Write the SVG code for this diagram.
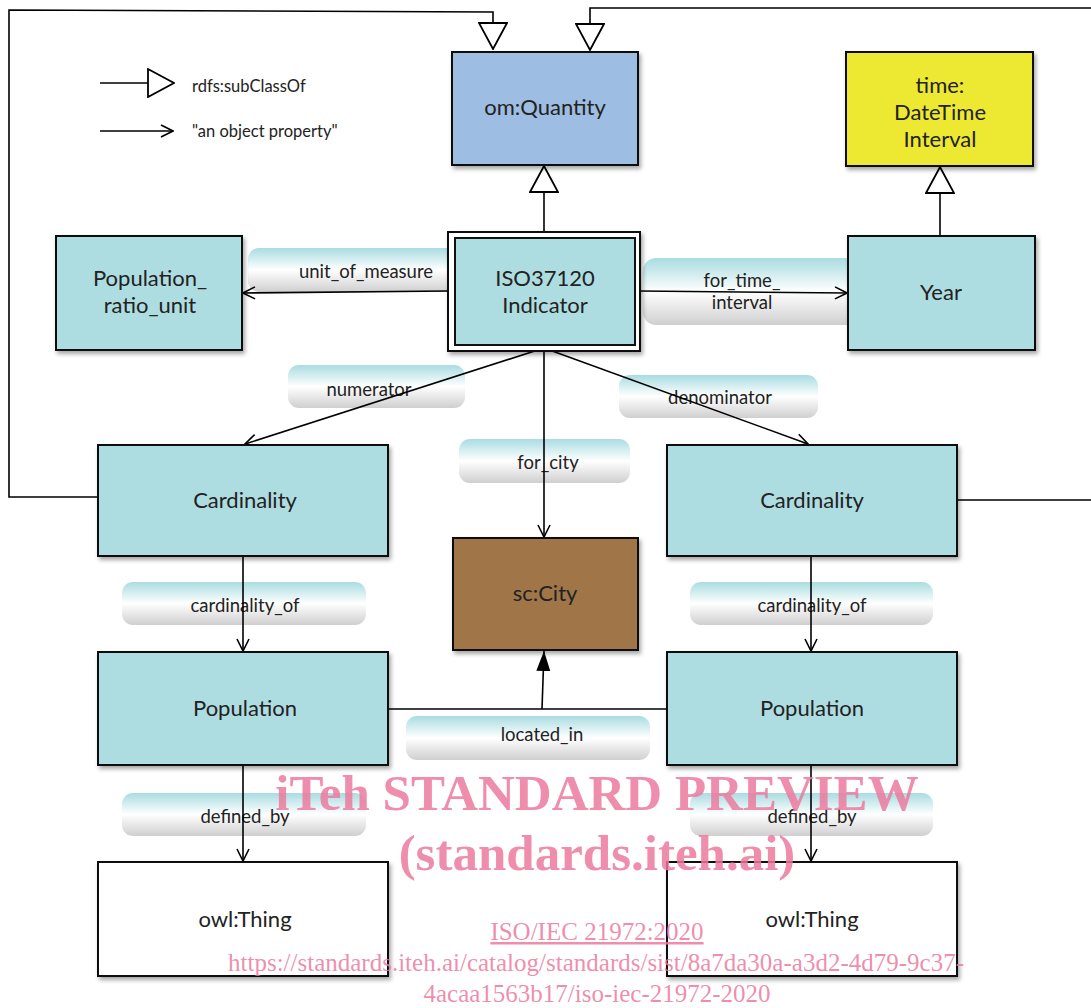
<svg xmlns="http://www.w3.org/2000/svg" width="1091" height="1008" viewBox="0 0 1091 1008">
<style>
.node{stroke:#111;stroke-width:2;filter:url(#sh)}
.teal{fill:#aedde1}
.nt{font-family:Lato,"Open Sans","Liberation Sans",sans-serif;font-size:22px;fill:#222;text-anchor:middle}
.lt{font-family:Lato,"Open Sans","Liberation Sans",sans-serif;font-size:18.5px;fill:#222;text-anchor:middle}
.lg{font-family:Lato,"Open Sans","Liberation Sans",sans-serif;font-size:16.5px;fill:#222}
.pill{fill:url(#lg)}
.c{fill:none;stroke:#000;stroke-width:1.6}
.wm{font-family:"Liberation Serif","Times New Roman",serif;fill:#ec7a9d;fill-opacity:0.85;text-anchor:middle}
</style>
<defs>
<linearGradient id="lg" x1="0" y1="0" x2="0" y2="1">
<stop offset="0" stop-color="#a9dce1"/>
<stop offset="0.5" stop-color="#ffffff"/>
<stop offset="1" stop-color="#cfcfcf"/>
</linearGradient>
<filter id="sh" x="-10%" y="-10%" width="125%" height="125%">
<feDropShadow dx="2" dy="3" stdDeviation="2" flood-color="#000" flood-opacity="0.35"/>
</filter>
<marker id="open" viewBox="0 0 14 14" refX="13" refY="7" markerWidth="14" markerHeight="14" markerUnits="userSpaceOnUse" orient="auto">
<path d="M1,1 L13,7 L1,13" fill="none" stroke="#000" stroke-width="1.6"/>
</marker>
<marker id="tri" viewBox="0 0 28 30" refX="27" refY="15" markerWidth="28" markerHeight="30" markerUnits="userSpaceOnUse" orient="auto">
<path d="M1,1 L27,15 L1,29 Z" fill="#fff" stroke="#000" stroke-width="1.8"/>
</marker>
<marker id="fill" viewBox="0 0 20 16" refX="20" refY="8" markerWidth="20" markerHeight="16" markerUnits="userSpaceOnUse" orient="auto">
<path d="M0,1 L20,8 L0,15 Z" fill="#000"/>
</marker>
</defs>
<rect width="1091" height="1008" fill="#fff"/>

<g id="legend">
<path class="c" d="M100,83 L174,83" marker-end="url(#tri)"/>
<text class="lg" x="192" y="92">rdfs:subClassOf</text>
<path class="c" d="M100,131 L173,131" marker-end="url(#open)"/>
<text class="lg" x="192" y="137">"an object property"</text>
</g>

<g id="labels">
<rect class="pill" x="248" y="248" width="215" height="44" rx="11"/>
<rect class="pill" x="643" y="258" width="215" height="67" rx="13"/>
<rect class="pill" x="288" y="365" width="177" height="43" rx="11"/>
<rect class="pill" x="619" y="375" width="199" height="43" rx="11"/>
<rect class="pill" x="459" y="439" width="171" height="44" rx="11"/>
<rect class="pill" x="122" y="582" width="244" height="43" rx="11"/>
<rect class="pill" x="690" y="582" width="243" height="43" rx="11"/>
<rect class="pill" x="406" y="716" width="244" height="44" rx="11"/>
<rect class="pill" x="122" y="793" width="244" height="43" rx="11"/>
<rect class="pill" x="690" y="793" width="243" height="43" rx="11"/>
<text class="lt" x="366" y="278">unit_of_measure</text>
<text class="lt" x="742" y="287">for_time_</text>
<text class="lt" x="742" y="309">interval</text>
<text class="lt" x="369" y="396">numerator</text>
<text class="lt" x="720" y="404">denominator</text>
<text class="lt" x="548" y="469">for_city</text>
<text class="lt" x="245" y="612">cardinality_of</text>
<text class="lt" x="812" y="612">cardinality_of</text>
<text class="lt" x="542" y="741">located_in</text>
<text class="lt" x="245" y="823">defined_by</text>
<text class="lt" x="812" y="823">defined_by</text>
</g>

<g id="connectors">
<path class="c" d="M98,497 L9,497 L9,10 L493,12 L493,49" marker-end="url(#tri)"/>
<path class="c" d="M957,500 L1095,500 L1095,8 L590,8 L590,50" marker-end="url(#tri)"/>
<path class="c" d="M544,232 L544,166" marker-end="url(#tri)"/>
<path class="c" d="M940,236 L940,167" marker-end="url(#tri)"/>
<path class="c" d="M448,291 L243,293" marker-end="url(#open)"/>
<path class="c" d="M640,291 L847,293" marker-end="url(#open)"/>
<path class="c" d="M544,348 L245,444" marker-end="url(#open)"/>
<path class="c" d="M544,348 L808,444" marker-end="url(#open)"/>
<path class="c" d="M544,348 L544,537" marker-end="url(#open)"/>
<path class="c" d="M243,556 L243,651" marker-end="url(#open)"/>
<path class="c" d="M811,556 L811,651" marker-end="url(#open)"/>
<path class="c" d="M388,709 L667,709"/>
<path class="c" d="M542,709 L544,651" marker-end="url(#fill)"/>
<path class="c" d="M243,765 L243,861" marker-end="url(#open)"/>
<path class="c" d="M811,765 L811,861" marker-end="url(#open)"/>
</g>

<g id="om_Quantity">
<rect class="node" x="452" y="52" width="186" height="113" fill="#9dbde3"/>
<text class="nt" x="545" y="115">om:Quantity</text>
</g>
<g id="time_DateTimeInterval">
<rect class="node" x="846" y="52" width="187" height="114" fill="#ede832"/>
<text class="nt" x="940" y="93">time:</text>
<text class="nt" x="940" y="120">DateTime</text>
<text class="nt" x="940" y="147">Interval</text>
</g>
<g id="Population_ratio_unit">
<rect class="node teal" x="56" y="236" width="186" height="114"/>
<text class="nt" x="150" y="286">Population_</text>
<text class="nt" x="150" y="313">ratio_unit</text>
</g>
<g id="ISO37120_Indicator">
<rect class="node" x="448" y="232" width="192" height="119" fill="#fff"/>
<rect class="teal" x="455" y="238" width="180" height="107" stroke="#111" stroke-width="2"/>
<text class="nt" x="545" y="286">ISO37120</text>
<text class="nt" x="545" y="313">Indicator</text>
</g>
<g id="Year">
<rect class="node teal" x="848" y="236" width="187" height="114"/>
<text class="nt" x="941" y="300">Year</text>
</g>
<g id="Cardinality_left">
<rect class="node teal" x="98" y="445" width="290" height="111"/>
<text class="nt" x="245" y="508">Cardinality</text>
</g>
<g id="Cardinality_right">
<rect class="node teal" x="667" y="445" width="290" height="111"/>
<text class="nt" x="812" y="508">Cardinality</text>
</g>
<g id="sc_City">
<rect class="node" x="453" y="538" width="185" height="112" fill="#a0764a"/>
<text class="nt" x="545" y="601">sc:City</text>
</g>
<g id="Population_left">
<rect class="node teal" x="98" y="652" width="290" height="113"/>
<text class="nt" x="245" y="716">Population</text>
</g>
<g id="Population_right">
<rect class="node teal" x="667" y="652" width="290" height="113"/>
<text class="nt" x="812" y="716">Population</text>
</g>
<g id="owl_Thing_left">
<rect class="node" x="98" y="862" width="290" height="114" fill="#fff"/>
<text class="nt" x="245" y="927">owl:Thing</text>
</g>
<g id="owl_Thing_right">
<rect class="node" x="667" y="862" width="290" height="114" fill="#fff"/>
<text class="nt" x="812" y="927">owl:Thing</text>
</g>

<g id="watermark">
<text class="wm" x="597" y="810" font-size="51" font-weight="bold">iTeh STANDARD PREVIEW</text>
<text class="wm" x="597" y="870" font-size="51" font-weight="bold">(standards.iteh.ai)</text>
<text class="wm" x="597" y="940" font-size="25" text-decoration="underline">ISO/IEC 21972:2020</text>
<text class="wm" x="596" y="971" font-size="25">https://standards.iteh.ai/catalog/standards/sist/8a7da30a-a3d2-4d79-9c37-</text>
<text class="wm" x="597" y="1002" font-size="25">4acaa1563b17/iso-iec-21972-2020</text>
</g>
</svg>
